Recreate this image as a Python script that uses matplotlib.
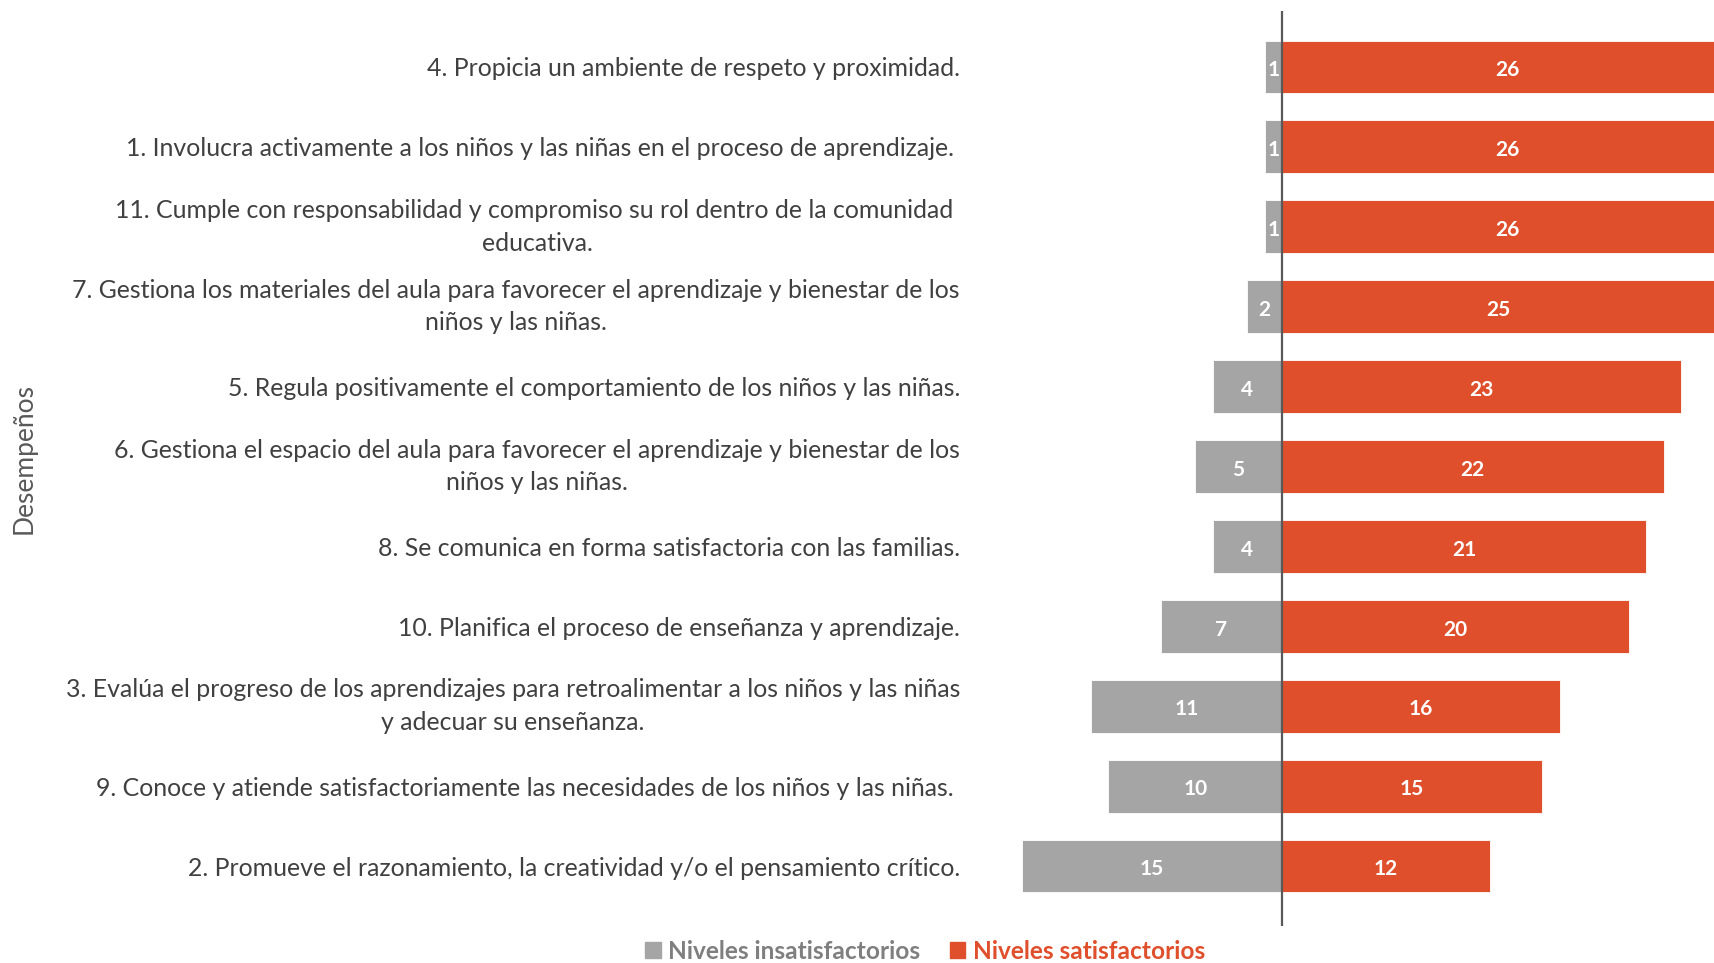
import matplotlib
matplotlib.use("Agg")
import matplotlib.pyplot as plt
from matplotlib.patches import Patch
from matplotlib.transforms import ScaledTranslation

categories = [
    "4. Propicia un ambiente de respeto y proximidad.",
    "1. Involucra activamente a los niños y las niñas en el proceso de aprendizaje. ",
    "11. Cumple con responsabilidad y compromiso su rol dentro de la comunidad \neducativa.",
    "7. Gestiona los materiales del aula para favorecer el aprendizaje y bienestar de los\nniños y las niñas.",
    "5. Regula positivamente el comportamiento de los niños y las niñas.",
    "6. Gestiona el espacio del aula para favorecer el aprendizaje y bienestar de los\nniños y las niñas.",
    "8. Se comunica en forma satisfactoria con las familias.",
    "10. Planifica el proceso de enseñanza y aprendizaje.",
    "3. Evalúa el progreso de los aprendizajes para retroalimentar a los niños y las niñas\ny adecuar su enseñanza.",
    "9. Conoce y atiende satisfactoriamente las necesidades de los niños y las niñas. ",
    "2. Promueve el razonamiento, la creatividad y/o el pensamiento crítico.",
]
insatisfactorios = [1, 1, 1, 2, 4, 5, 4, 7, 11, 10, 15]
satisfactorios = [26, 26, 26, 25, 23, 22, 21, 20, 16, 15, 12]
series_names = ["Niveles insatisfactorios", "Niveles satisfactorios"]

GRAY = "#A5A5A5"
RED = "#E04F2B"
FONT = "Lato"

W, H = 1715, 963
fig = plt.figure(figsize=(W / 100, H / 100), dpi=100)
ax_left = 1004.4 / W
ax_bottom = (H - 926) / H
ax_top = (H - 11) / H
ax = fig.add_axes([ax_left, ax_bottom, 1 - ax_left, ax_top - ax_bottom])

y = list(range(len(categories)))
neg = [-v for v in insatisfactorios]
ax.barh(y, neg, height=0.66, color=GRAY, edgecolor="white", linewidth=0.6)
ax.barh(y, satisfactorios, height=0.66, color=RED, edgecolor="white", linewidth=0.6)

dy = 0.04
for yi, v in zip(y, insatisfactorios):
    ax.text(-v / 2, yi + dy, str(v), ha="center", va="center", color="white",
            fontsize=15, fontweight="bold", family=FONT)
for yi, v in zip(y, satisfactorios):
    ax.text(v / 2, yi + dy, str(v), ha="center", va="center", color="white",
            fontsize=15, fontweight="bold", family=FONT)

ax.set_xlim(-16, 24.96)
ax.set_ylim(10.75, -0.70)
ax.axvline(0, color="#595959", lw=1.6)
for s in ax.spines.values():
    s.set_visible(False)
ax.set_xticks([])
ax.set_yticks([])

# category labels, right-aligned left of the plot area
tr = ax.get_yaxis_transform() + ScaledTranslation(-0.444, 0, fig.dpi_scale_trans)
for yi, lab in zip(y, categories):
    va = "center" if "\n" in lab else "center_baseline"
    ax.text(0, yi, lab, transform=tr, ha="right", va=va, fontsize=17.9,
            family=FONT, color="#404040", multialignment="center", linespacing=1.5,
            clip_on=False)

fig.text(24 / W, 1 - 458 / H, "Desempeños", rotation=90, ha="center", va="center",
         fontsize=19, family=FONT, color="#595959")

handles = [Patch(color=GRAY), Patch(color=RED)]
leg = fig.legend(handles, series_names, loc="center", bbox_to_anchor=(925 / W, 12 / H),
                 ncol=2, frameon=False, handlelength=0.65, handleheight=0.65,
                 handletextpad=0.3, columnspacing=1.2,
                 prop={"family": FONT, "size": 17.6, "weight": "bold"})
for t, c in zip(leg.get_texts(), ["#7F7F7F", RED]):
    t.set_color(c)

fig.savefig("out.png", dpi=100)
